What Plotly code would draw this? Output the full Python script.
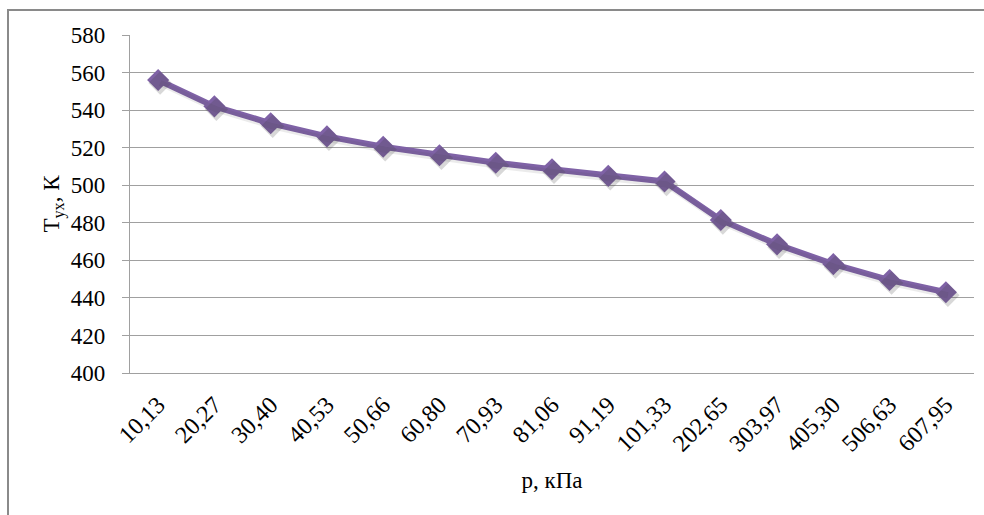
import plotly.graph_objects as go

# Pressure categories (kPa) and exhaust temperature values (K)
pressure_labels = ["10,13", "20,27", "30,40", "40,53", "50,66", "60,80", "70,93",
                   "81,06", "91,19", "101,33", "202,65", "303,97", "405,30",
                   "506,63", "607,95"]
t_exhaust = [556, 542, 533, 526, 520.5, 516, 512, 508.5, 505, 502,
             481.5, 468.5, 458, 449.5, 443]
y_ticks = list(range(400, 581, 20))

W, H = 984, 515
ML, MR, MT, MB = 130, 10, 35, 142
FONT = "Liberation Serif"
GRID = "#a0a0a0"
PURPLE = "#7f62a6"
Y0, Y1 = 400, 580

pw, ph = W - ML - MR, H - MT - MB
n = len(pressure_labels)
# soft drop shadow: same series on overlay axes shifted a few pixels
sx = 2 * n / pw
sy = 3 * (Y1 - Y0) / ph

fig = go.Figure()
fig.add_trace(go.Scatter(
    x=pressure_labels, y=t_exhaust, mode="lines+markers",
    line=dict(color="rgba(60,60,60,0.10)", width=6),
    marker=dict(symbol="diamond", size=18, color="rgba(60,60,60,0.20)"),
    xaxis="x2", yaxis="y2", showlegend=False, hoverinfo="skip",
))
fig.add_trace(go.Scatter(
    x=pressure_labels, y=t_exhaust, mode="lines+markers",
    line=dict(color=PURPLE, width=6),
    marker=dict(symbol="diamond", size=17, color=PURPLE),
    showlegend=False, hoverinfo="x+y",
))

# outer chart frame (left and top edges fall inside the view)
fig.add_shape(type="rect", xref="paper", yref="paper",
              x0=(8 - ML) / pw, x1=(W + 20 - ML) / pw,
              y0=-(H + 20 - MT - ph) / ph, y1=1 + (MT - 10) / ph,
              line=dict(color="#8a8a8a", width=2), layer="below")

fig.update_layout(
    width=W, height=H,
    margin=dict(l=ML, r=MR, t=MT, b=MB),
    paper_bgcolor="white", plot_bgcolor="white",
    font=dict(family=FONT, size=23, color="#000000"),
    xaxis=dict(
        type="category", tickangle=-45, showgrid=False,
        showline=True, linecolor=GRID, linewidth=1.3,
        ticks="", tickfont=dict(family=FONT, size=24),
        ticklabelstandoff=7,
        title=dict(text="р, кПа", font=dict(family=FONT, size=23), standoff=16),
        range=[-0.5, n - 0.5],
        fixedrange=True,
    ),
    yaxis=dict(
        range=[Y0, Y1], tickvals=y_ticks,
        showgrid=True, gridcolor=GRID, gridwidth=1.3,
        showline=True, linecolor=GRID, linewidth=1.3,
        ticks="outside", ticklen=7, tickcolor=GRID, tickwidth=1.3,
        ticklabelstandoff=12, tickfont=dict(family=FONT, size=23),
        title=dict(text="T<sub>ух</sub>, К", font=dict(family=FONT, size=23), standoff=4),
        zeroline=False, fixedrange=True,
    ),
    xaxis2=dict(type="category", overlaying="x", range=[-0.5 - sx, n - 0.5 - sx],
                visible=False, fixedrange=True),
    yaxis2=dict(overlaying="y", range=[Y0 + sy, Y1 + sy], visible=False,
                fixedrange=True),
)

fig.write_html("out.html")
